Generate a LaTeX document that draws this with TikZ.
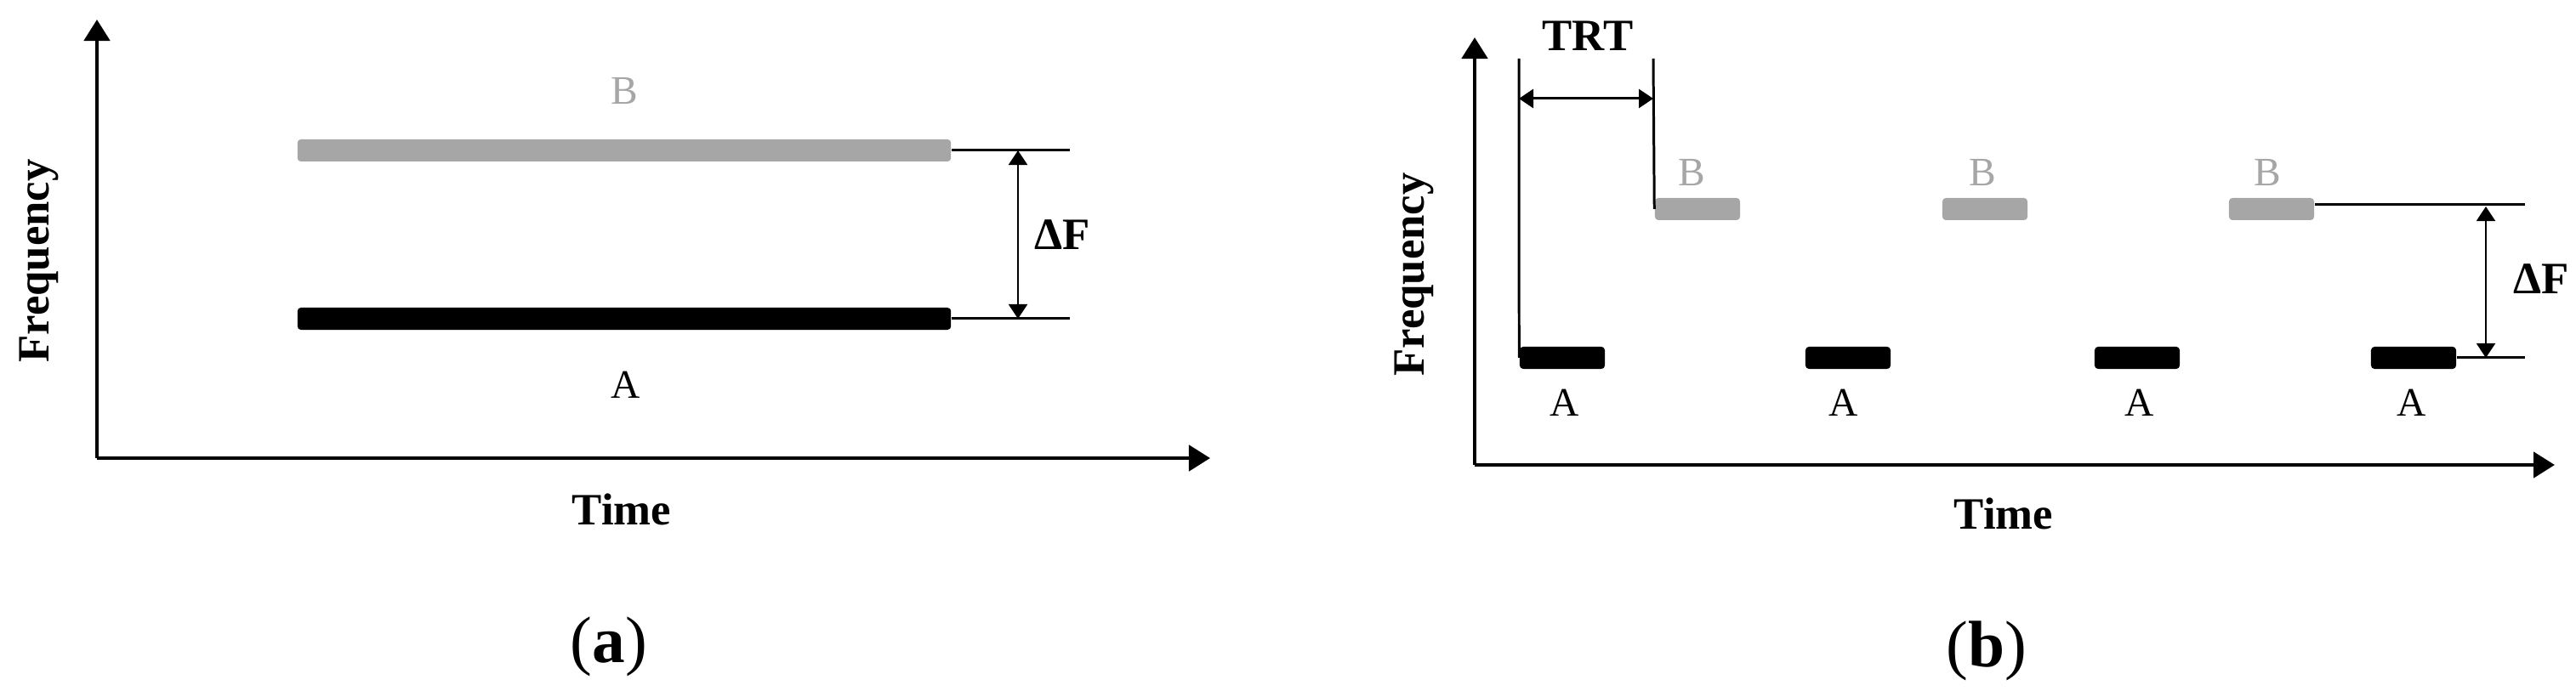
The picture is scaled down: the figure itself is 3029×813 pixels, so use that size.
\documentclass[tikz,border=0pt]{standalone}
\usepackage{fontspec}
\setmainfont{Liberation Serif}
\usetikzlibrary{arrows.meta}
\definecolor{bgray}{HTML}{A6A6A6}
\begin{document}
\begin{tikzpicture}[x=0.01cm,y=-0.01cm,
  axis/.style={line width=1.4pt,-{Triangle[length=0.25cm,width=0.3cm]}},
  thinln/.style={line width=0.85pt},
  dim/.style={line width=0.6pt,{Triangle[length=0.17cm,width=0.22cm]}-{Triangle[length=0.17cm,width=0.22cm]}},
  barA/.style={fill=black,rounded corners=0.04cm,inner sep=0,minimum height=0.26cm},
  barB/.style={fill=bgray,rounded corners=0.04cm,inner sep=0,minimum height=0.26cm},
  lab/.style={font=\fontsize{13.5}{15}\selectfont,inner sep=0},
  blab/.style={font=\fontsize{15}{17}\selectfont\bfseries,inner sep=0},
  subcap/.style={font=\fontsize{22}{24}\selectfont,inner sep=0}]
\useasboundingbox (0,0) rectangle (3029,813);
% ---------- (a)
\coordinate (oa) at (114,539);
\coordinate (ya) at (114,23);
\coordinate (xa) at (1423,539);
\draw[axis] (oa) -- (ya);
\draw[axis] (oa) -- (xa);
\node[barB,minimum width=7.68cm] (Ba) at (734,177) {};
\node[barA,minimum width=7.68cm] (Aa) at (734,375) {};
\coordinate (tBa) at (1258,177);
\coordinate (tAa) at (1258,375);
\draw[thinln] (Ba.east) -- (tBa);
\draw[thinln] (Aa.east) -- (tAa);
\coordinate (dBa) at (1197,177);
\coordinate (dAa) at (1197,375);
\draw[dim] (dBa) -- (dAa);
\node[blab] (dfa) at (1249,276) {ΔF};
\node[lab,text=bgray] (lBa) at (734,107) {B};
\node[lab] (lAa) at (736,453) {A};
\node[blab,rotate=90] (fa) at (46,307) {Frequency};
\node[blab] (ta) at (731,599) {Time};
\node[subcap] (ca) at (716,761) {(\textbf{a})};
% ---------- (b)
\coordinate (ob) at (1734,547);
\coordinate (yb) at (1734,44);
\coordinate (xb) at (3004,547);
\draw[axis] (ob) -- (yb);
\draw[axis] (ob) -- (xb);
\foreach \i/\x in {1/1996,2/2334,3/2671}{
  \node[barB,minimum width=1cm] (B\i) at (\x,246) {};
}
\foreach \i/\x in {1/1837,2/2173,3/2513,4/2838}{
  \node[barA,minimum width=1cm] (A\i) at (\x,421) {};
}
\coordinate (v1t) at (1786,69);
\coordinate (v2t) at (1944,69);
\draw[thinln] (v1t) -- (A1.west);
\draw[thinln] (v2t) -- (B1.west);
\coordinate (r1) at (1786,116);
\coordinate (r2) at (1944,116);
\draw[dim,line width=0.85pt] (r1) -- (r2);
\node[blab] (trt) at (1867,42) {TRT};
\coordinate (tBb) at (2969,241);
\coordinate (tAb) at (2969,421);
\draw[thinln] (B3.east |- tBb) -- (tBb);
\draw[thinln] (A4.east) -- (tAb);
\coordinate (dBb) at (2923,243);
\coordinate (dAb) at (2923,421);
\draw[dim] (dBb) -- (dAb);
\node[blab] (dfb) at (2988,328) {ΔF};
\foreach \i/\x in {1/1989,2/2331,3/2666}{
  \node[lab,text=bgray] (lB\i) at (\x,203) {B};
}
\foreach \i/\x in {1/1840,2/2168,3/2516,4/2836}{
  \node[lab] (lA\i) at (\x,474) {A};
}
\node[blab,rotate=90] (fb) at (1663,323) {Frequency};
\node[blab] (tb) at (2356,604) {Time};
\node[subcap] (cb) at (2336,766) {(\textbf{b})};
\end{tikzpicture}
\end{document}
